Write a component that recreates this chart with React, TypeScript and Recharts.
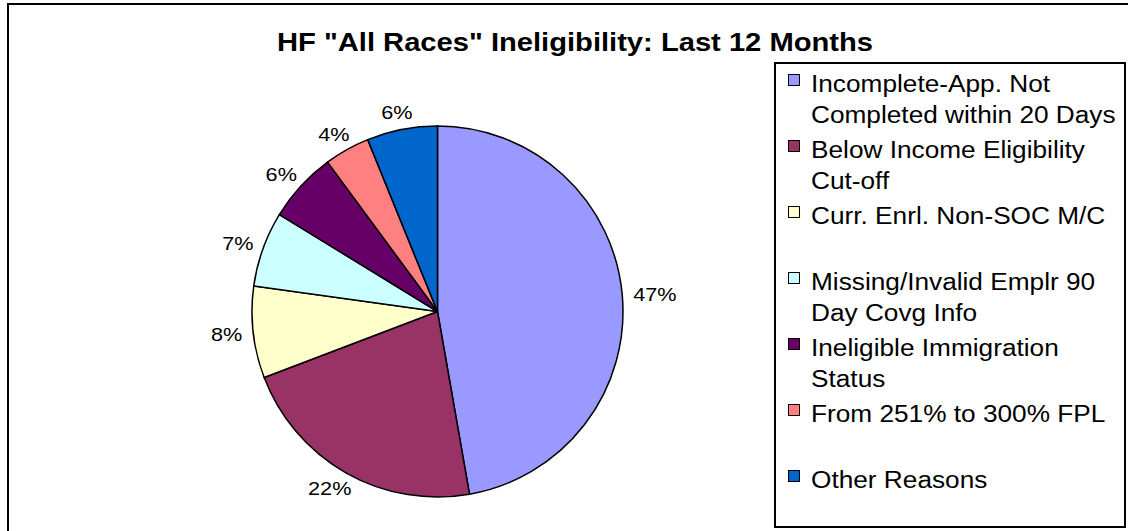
import React from 'react';
import { PieChart, Pie, Cell, Legend } from 'recharts';

const reasons = [
  'Incomplete-App. Not\nCompleted within 20 Days',
  'Below Income Eligibility\nCut-off',
  'Curr. Enrl. Non-SOC M/C',
  'Missing/Invalid Emplr 90\nDay Covg Info',
  'Ineligible Immigration\nStatus',
  'From 251% to 300% FPL',
  'Other Reasons',
];
const shares = [47.25, 21.97, 8.0, 6.55, 6.15, 3.96, 6.14];
const colors = ['#9999FF', '#993366', '#FFFFCC', '#CCFFFF', '#660066', '#FF8080', '#0066CC'];

const data = reasons.map((name, i) => ({ name, value: shares[i] }));

const FONT = "'Liberation Sans', Arial, sans-serif";
const STRETCH = 1.14;
const RAD = Math.PI / 180;

// Arial glyph widths (em) for the label characters
const charW = (s: string) =>
  s.split('').reduce((sum, ch) => sum + (ch === '%' ? 0.889 : 0.556), 0);

const renderLabel = (props: any) => {
  const { cx, cy, midAngle, outerRadius, percent } = props;
  const text = `${Math.round(percent * 100)}%`;
  const fs = 19;
  const w = charW(text) * fs * STRETCH;
  const h = fs * 0.72;
  const cos = Math.cos(-midAngle * RAD);
  const sin = Math.sin(-midAngle * RAD);
  const r = outerRadius + 11;
  const x = cx + r * cos + (w / 2) * cos;
  const y = cy + r * sin + (h / 2) * sin;
  return (
    <text
      x={x - w / 2}
      y={y + h / 2}
      textLength={w}
      lengthAdjust="spacingAndGlyphs"
      fontFamily={FONT}
      fontSize={fs}
      fill="#000"
    >
      {text}
    </text>
  );
};

const renderLegend = () => (
  <div
    style={{
      boxSizing: 'border-box',
      width: 352,
      height: 466,
      border: '2px solid #000',
      background: '#fff',
      paddingTop: 5,
      fontFamily: FONT,
      fontSize: 23,
      color: '#000',
    }}
  >
    {reasons.map((name, i) => (
      <div key={i} style={{ position: 'relative', height: 66 }}>
        <div
          style={{
            position: 'absolute',
            left: 12,
            top: 5,
            width: 10,
            height: 10,
            background: colors[i],
            border: '1.5px solid #000',
          }}
        />
        <div style={{ position: 'absolute', left: 35, top: 0, lineHeight: '31px' }}>
          {name.split('\n').map((line, j) => (
            <div
              key={j}
              style={{
                whiteSpace: 'nowrap',
                transform: `scaleX(${STRETCH})`,
                transformOrigin: 'left center',
              }}
            >
              {line}
            </div>
          ))}
        </div>
      </div>
    ))}
  </div>
);

export default function App() {
  return (
    <div
      style={{
        position: 'absolute',
        left: 0,
        top: 0,
        width: 1128,
        height: 531,
        overflow: 'hidden',
        background: '#fff',
      }}
    >
      <PieChart width={1128} height={531} margin={{ top: 0, right: 0, bottom: 0, left: 0 }}>
        <Pie
          data={data}
          dataKey="value"
          nameKey="name"
          cx={437.5}
          cy={311.5}
          outerRadius={185.5}
          startAngle={90}
          endAngle={-270}
          stroke="#000"
          strokeWidth={1.5}
          label={renderLabel}
          labelLine={false}
          isAnimationActive={false}
        >
          {data.map((_, i) => (
            <Cell key={i} fill={colors[i]} />
          ))}
        </Pie>
        <Legend
          content={renderLegend}
          wrapperStyle={{ position: 'absolute', left: 774, top: 62, width: 352, height: 466 }}
        />
      </PieChart>
      <svg
        width={1128}
        height={531}
        style={{ position: 'absolute', left: 0, top: 0, pointerEvents: 'none' }}
      >
        <text
          x={277}
          y={51}
          textLength={596}
          lengthAdjust="spacingAndGlyphs"
          fontFamily={FONT}
          fontWeight="bold"
          fontSize={25}
          fill="#000"
        >
          HF "All Races" Ineligibility: Last 12 Months
        </text>
      </svg>
      <div
        style={{
          position: 'absolute',
          left: 7,
          top: 3,
          width: 1200,
          height: 600,
          border: '2px solid #000',
          pointerEvents: 'none',
        }}
      />
    </div>
  );
}
